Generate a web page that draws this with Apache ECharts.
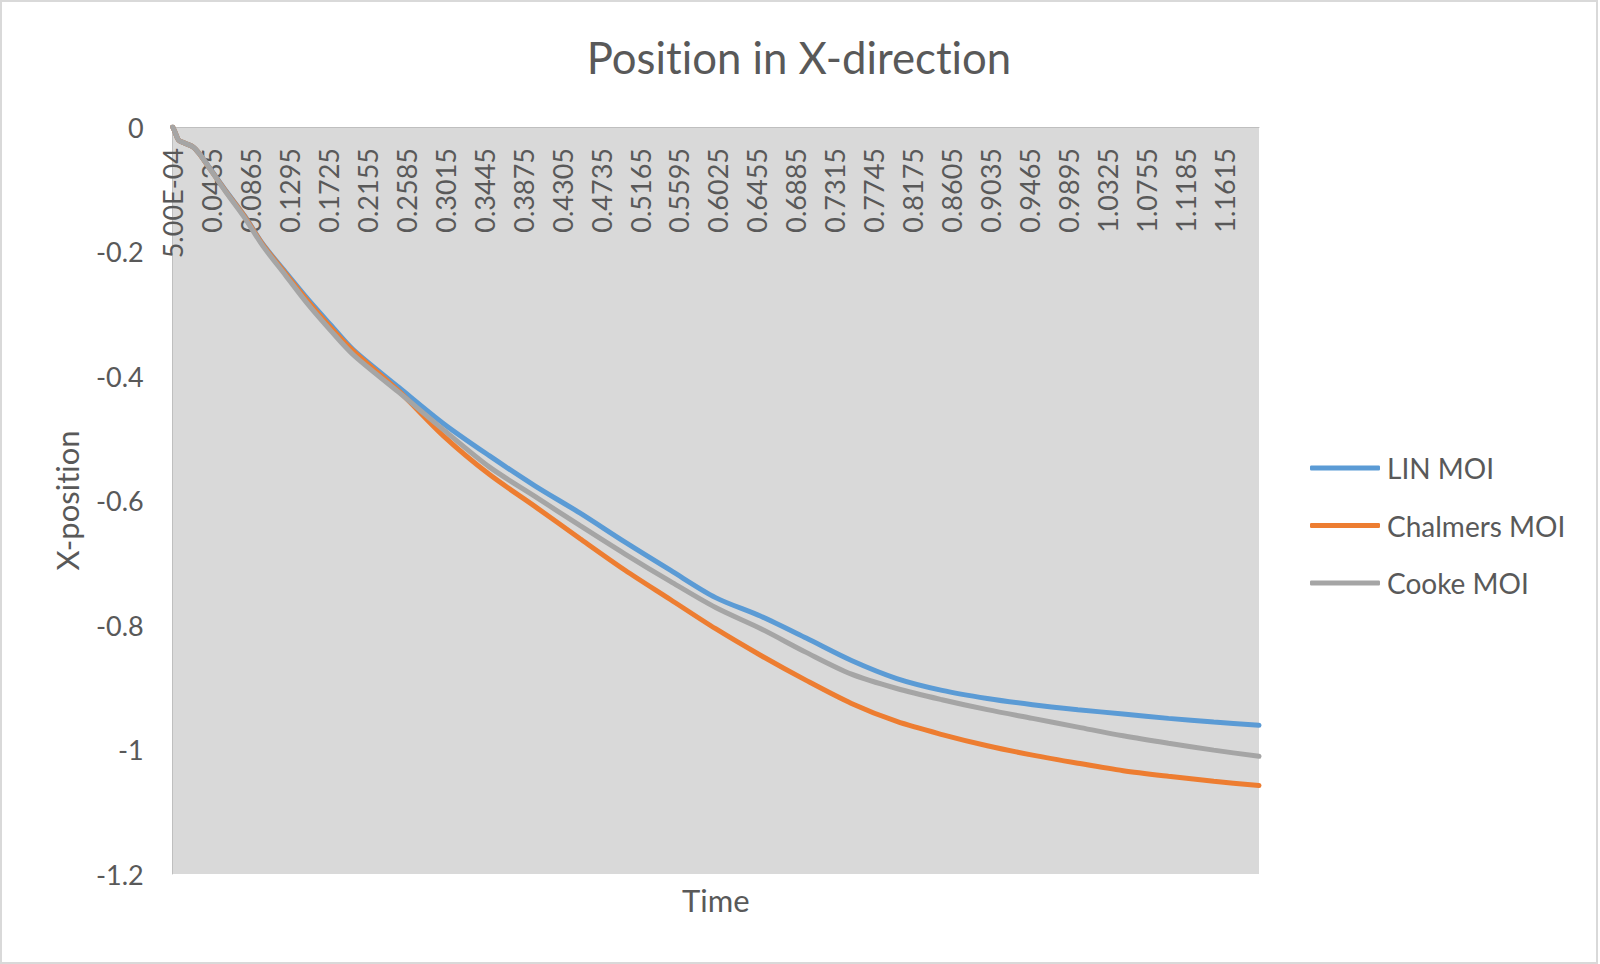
<!DOCTYPE html>
<html>
<head>
<meta charset="utf-8">
<script src="https://cdn.jsdelivr.net/npm/echarts@6/dist/echarts.min.js"></script>
<style>
html,body{margin:0;padding:0;background:#fff;}
#chart{width:1600px;height:964px;}
#chart text{font-variant-ligatures:none;font-feature-settings:"liga" 0,"clig" 0;}
</style>
</head>
<body>
<div id="chart"></div>
<script>
const timeValues = [0.0005, 0.003, 0.007, 0.014, 0.023, 0.03, 0.04, 0.06, 0.08, 0.1, 0.125, 0.15, 0.175, 0.2, 0.25, 0.3, 0.35, 0.4, 0.45, 0.5, 0.55, 0.6, 0.65, 0.7, 0.75, 0.8, 0.85, 0.9, 0.95, 1.0, 1.05, 1.1, 1.15, 1.2];
const linMOI = [0, -0.008, -0.021, -0.026, -0.032, -0.043, -0.063, -0.104, -0.143, -0.188, -0.233, -0.277, -0.318, -0.358, -0.418, -0.477, -0.528, -0.576, -0.620, -0.667, -0.712, -0.756, -0.786, -0.821, -0.857, -0.886, -0.905, -0.918, -0.928, -0.936, -0.943, -0.950, -0.956, -0.961];
const chalmersMOI = [0, -0.008, -0.021, -0.026, -0.032, -0.043, -0.064, -0.105, -0.144, -0.189, -0.235, -0.280, -0.322, -0.360, -0.424, -0.497, -0.558, -0.609, -0.661, -0.712, -0.759, -0.806, -0.849, -0.889, -0.926, -0.955, -0.976, -0.994, -1.009, -1.022, -1.034, -1.043, -1.051, -1.058];
const cookeMOI = [0, -0.008, -0.021, -0.026, -0.032, -0.043, -0.064, -0.106, -0.146, -0.191, -0.238, -0.285, -0.327, -0.366, -0.426, -0.487, -0.546, -0.593, -0.640, -0.686, -0.730, -0.772, -0.806, -0.844, -0.879, -0.902, -0.920, -0.936, -0.950, -0.964, -0.978, -0.990, -1.001, -1.011];
const xTickLabels = ['5.00E-04', '0.0435', '0.0865', '0.1295', '0.1725', '0.2155', '0.2585', '0.3015', '0.3445', '0.3875', '0.4305', '0.4735', '0.5165', '0.5595', '0.6025', '0.6455', '0.6885', '0.7315', '0.7745', '0.8175', '0.8605', '0.9035', '0.9465', '0.9895', '1.0325', '1.0755', '1.1185', '1.1615'];
const seriesNames = ['LIN MOI', 'Chalmers MOI', 'Cooke MOI'];

const FONT = 'Lato';
const TXT = '#595959';
const tickValues = xTickLabels.map(Number);
const labelFor = {};
xTickLabels.forEach((s, i) => { labelFor[tickValues[i].toFixed(4)] = s; });

function pairs(arr) { return timeValues.map((t, i) => [t, arr[i]]); }

const chart = echarts.init(document.getElementById('chart'), null, { renderer: 'svg' });
chart.setOption({
  animation: false,
  backgroundColor: '#ffffff',
  title: {
    text: 'Position in X-direction',
    left: 794, textAlign: 'center',
    top: 30,
    textStyle: { fontFamily: FONT, fontSize: 43.7, fontWeight: 'normal', color: TXT }
  },
  graphic: [{
    type: 'rect', silent: true,
    shape: { x: 1, y: 1, width: 1596, height: 962 },
    style: { fill: 'none', stroke: '#d9d9d9', lineWidth: 2 }
  }],
  legend: {
    orient: 'vertical',
    left: 1305, top: 449,
    icon: 'roundRect',
    itemWidth: 70, itemHeight: 5, itemGap: 29.5,
    textStyle: { fontFamily: FONT, fontSize: 28, color: TXT, padding: [0, 0, 0, 2] },
    data: seriesNames
  },
  grid: {
    left: 172.7, top: 127, right: 341, bottom: 90,
    show: true, backgroundColor: '#d9d9d9', borderWidth: 0
  },
  xAxis: [{
    type: 'value', position: 'top',
    min: 0.0005, max: 1.2,
    axisLine: { show: true, onZero: false, lineStyle: { color: '#bfbfbf', width: 1 } },
    axisTick: { show: false },
    splitLine: { show: false },
    axisLabel: {
      inside: true, rotate: -90, margin: 21,
      customValues: tickValues,
      fontFamily: FONT, fontSize: 27, color: TXT,
      formatter: v => labelFor[Number(v).toFixed(4)] || ''
    }
  }, {
    type: 'value', position: 'bottom', min: 0, max: 1,
    axisLine: { show: false }, axisTick: { show: false }, axisLabel: { show: false }, splitLine: { show: false },
    name: 'Time', nameLocation: 'middle', nameGap: 10,
    nameTextStyle: { fontFamily: FONT, fontSize: 31, color: TXT }
  }],
  yAxis: {
    type: 'value', min: -1.2, max: 0, interval: 0.2,
    axisLine: { show: true, lineStyle: { color: '#bfbfbf', width: 1 } },
    axisTick: { show: false },
    splitLine: { show: false },
    axisLabel: { fontFamily: FONT, fontSize: 27, color: TXT, margin: 29 },
    name: 'X-position', nameLocation: 'middle', nameRotate: 90, nameGap: 90,
    nameTextStyle: { fontFamily: FONT, fontSize: 31, color: TXT }
  },
  series: [
    { name: seriesNames[0], type: 'line', data: pairs(linMOI), xAxisIndex: 0, symbol: 'none', smooth: 0.3,
      lineStyle: { color: '#5B9BD5', width: 5, cap: 'round' }, itemStyle: { color: '#5B9BD5' } },
    { name: seriesNames[1], type: 'line', data: pairs(chalmersMOI), xAxisIndex: 0, symbol: 'none', smooth: 0.3,
      lineStyle: { color: '#ED7D31', width: 5, cap: 'round' }, itemStyle: { color: '#ED7D31' } },
    { name: seriesNames[2], type: 'line', data: pairs(cookeMOI), xAxisIndex: 0, symbol: 'none', smooth: 0.3,
      lineStyle: { color: '#A5A5A5', width: 5, cap: 'round' }, itemStyle: { color: '#A5A5A5' } }
  ]
});
</script>
</body>
</html>
